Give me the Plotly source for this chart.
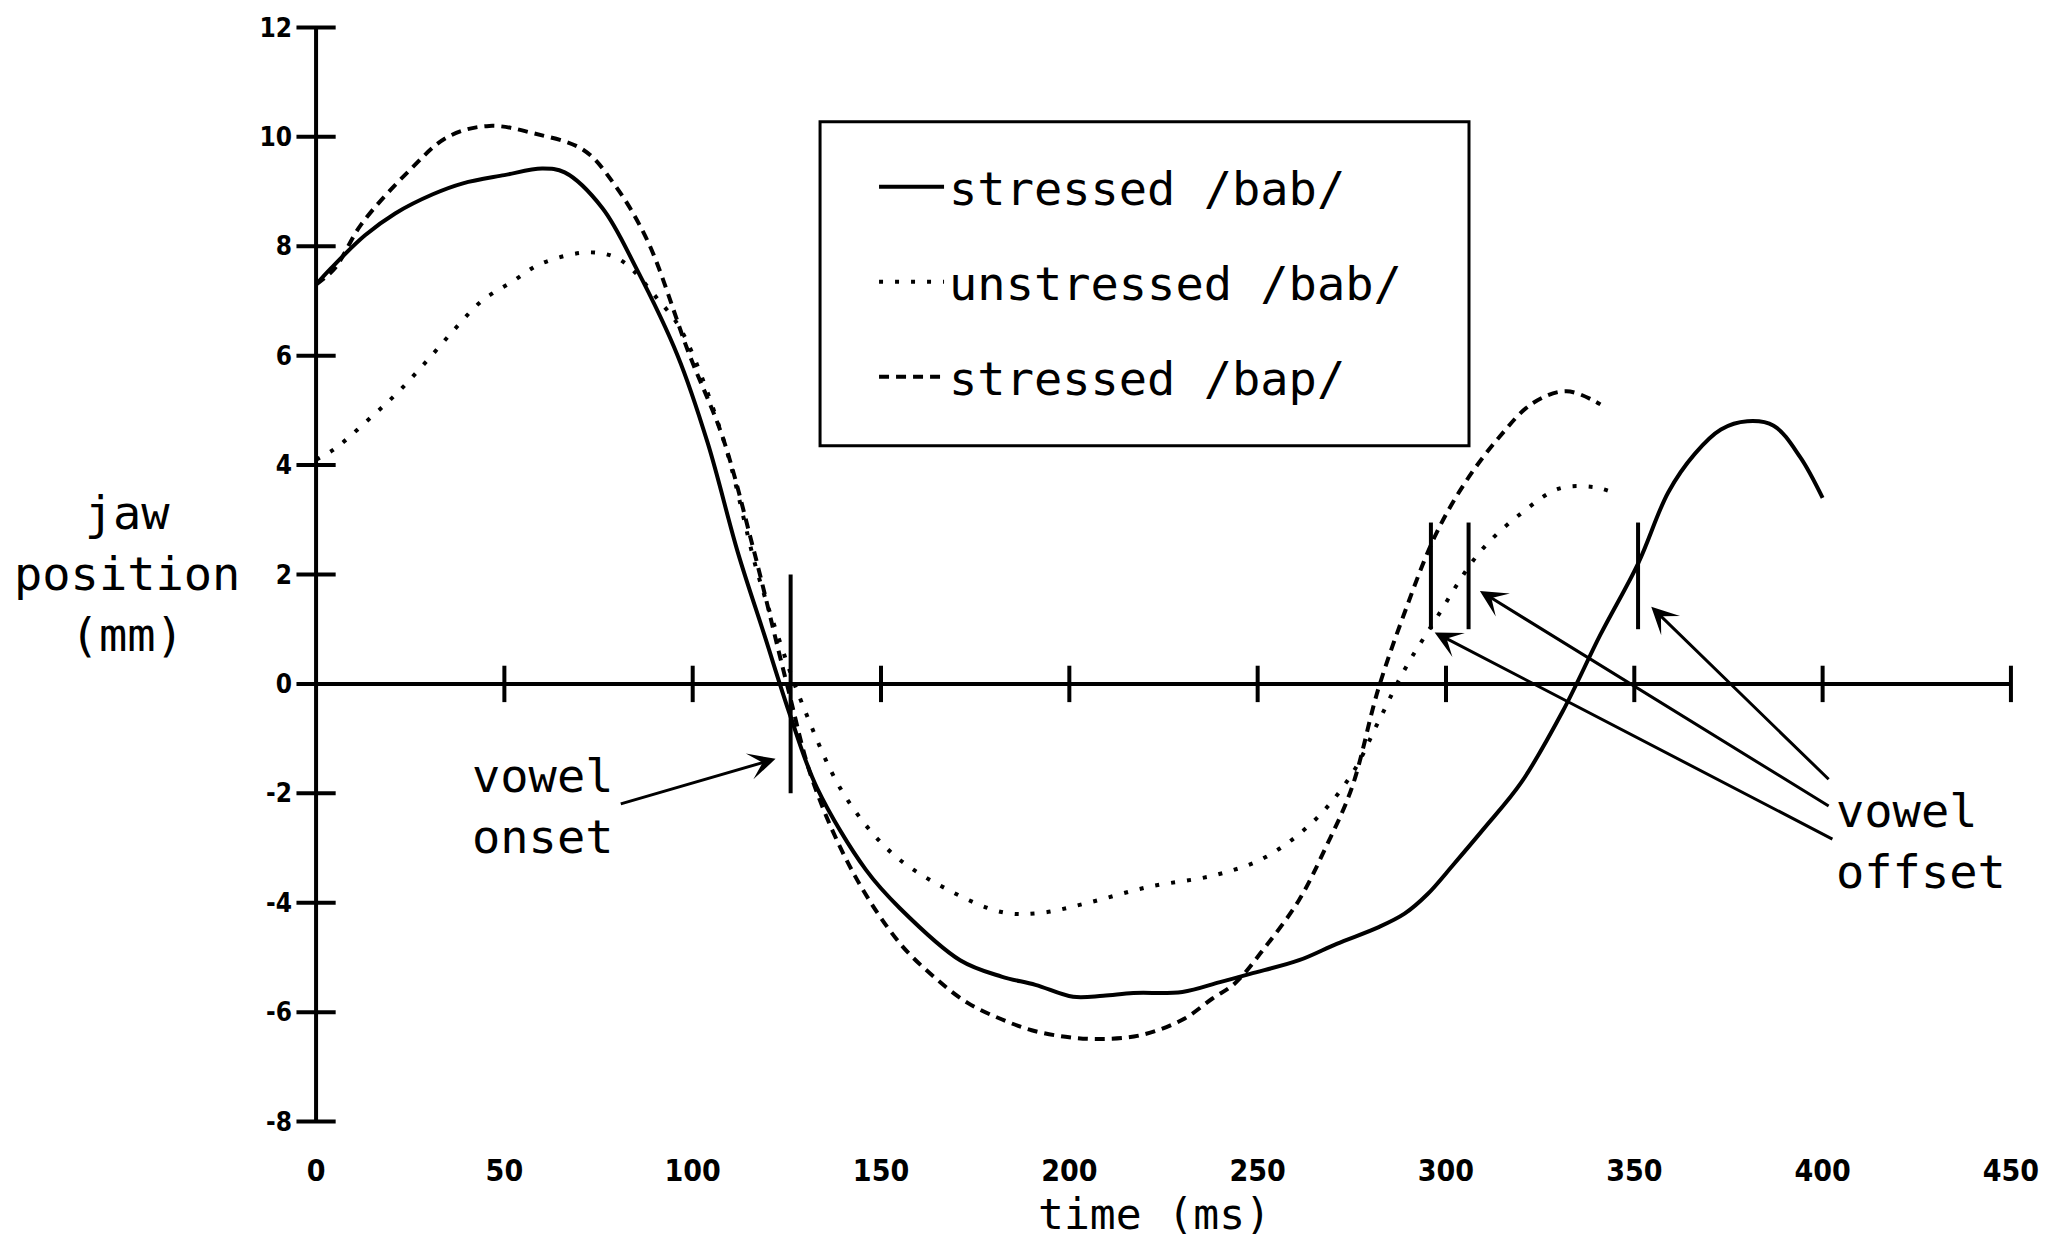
import plotly.graph_objects as go

# jaw position traces (time in ms, position in mm)
stressed_bab_t = [0, 4, 13, 21, 31, 39, 50, 60, 66, 76, 85, 96, 104, 112, 119,
                  126, 133, 146, 155, 171, 182, 191, 201, 209, 217, 230, 240,
                  248, 261, 271, 282, 289, 295, 302, 310, 320, 331, 341, 351,
                  359, 366, 373, 380, 387, 394, 400]
stressed_bab_y = [7.3, 7.6, 8.2, 8.6, 8.95, 9.15, 9.3, 9.42, 9.35, 8.7, 7.6,
                  6.0, 4.4, 2.4, 0.9, -0.6, -1.9, -3.4, -4.1, -5.05, -5.35,
                  -5.5, -5.72, -5.7, -5.65, -5.63, -5.45, -5.3, -5.05, -4.75,
                  -4.45, -4.2, -3.85, -3.3, -2.65, -1.8, -0.5, 0.9, 2.2, 3.5,
                  4.2, 4.65, 4.8, 4.72, 4.15, 3.4]

unstressed_bab_t = [0, 5, 15, 22, 30, 37, 44, 52, 60, 73, 81, 91, 97, 108,
                    117, 123, 129, 140, 153, 168, 182, 192, 205, 221, 239,
                    252, 265, 275, 282, 289, 297, 309, 320, 330, 339, 344]
unstressed_bab_y = [4.1, 4.3, 4.9, 5.35, 5.95, 6.5, 7.0, 7.35, 7.69, 7.89,
                    7.74, 7.01, 6.46, 4.5, 2.08, 0.8, -0.35, -2.0, -3.1, -3.77,
                    -4.17, -4.19, -4.0, -3.71, -3.49, -3.17, -2.5, -1.65, -0.7,
                    0.26, 1.15, 2.41, 3.12, 3.57, 3.6, 3.51]

stressed_bap_t = [0, 5, 12, 25, 35, 46, 58, 71, 79, 88, 99, 108, 116, 125,
                  132, 143, 155, 164, 173, 182, 190, 199, 208, 219, 230, 238,
                  244, 252, 261, 268, 275, 282, 289, 297, 305, 314, 323, 332,
                  341]
stressed_bap_y = [7.3, 7.6, 8.4, 9.4, 10.0, 10.2, 10.06, 9.76, 9.15, 8.1,
                  6.04, 4.5, 2.5, 0.0, -1.8, -3.5, -4.74, -5.35, -5.83, -6.13,
                  -6.33, -6.45, -6.49, -6.42, -6.14, -5.75, -5.47, -4.81,
                  -3.95, -3.0, -1.9, -0.1, 1.3, 2.69, 3.67, 4.5, 5.13, 5.35,
                  5.11]

# vowel onset / offset markers
onset_t = 126
onset_y = [2.0, -2.0]
offset_t = [296, 306, 351]
offset_y = [2.95, 1.0]

x_ticks = [0, 50, 100, 150, 200, 250, 300, 350, 400, 450]
y_ticks = [-8, -6, -4, -2, 0, 2, 4, 6, 8, 10, 12]
y_ticktext = ["-8", "-6", "-4", "-2", "0", "2", "4", "6", "8", "10", "12"]

FONT = "DejaVu Sans Mono"
TICKFONT = dict(family="DejaVu Sans Condensed", size=30, color="black",
                weight="bold")

fig = go.Figure()

fig.add_trace(go.Scatter(x=stressed_bab_t, y=stressed_bab_y, mode="lines",
                         name="stressed /bab/", legendgroup="a",
                         line=dict(color="black", width=4, shape="spline")))
fig.add_trace(go.Scatter(x=unstressed_bab_t, y=unstressed_bab_y, mode="lines",
                         name="unstressed /bab/", legendgroup="b",
                         line=dict(color="black", width=4, shape="spline",
                                   dash="4px,12px")))
fig.add_trace(go.Scatter(x=stressed_bap_t, y=stressed_bap_y, mode="lines",
                         name="stressed /bap/", legendgroup="c",
                         line=dict(color="black", width=4, shape="spline",
                                   dash="10px,7px")))

# onset and offset bars
fig.add_trace(go.Scatter(x=[onset_t, onset_t], y=onset_y, mode="lines",
                         showlegend=False,
                         line=dict(color="black", width=4)))
for t in offset_t:
    fig.add_trace(go.Scatter(x=[t, t], y=offset_y, mode="lines",
                             showlegend=False,
                             line=dict(color="black", width=4)))

# axis lines crossing at the origin
fig.add_shape(type="line", x0=x_ticks[0], x1=x_ticks[-1], y0=0, y1=0,
              line=dict(color="black", width=4))
fig.add_shape(type="line", x0=0, x1=0, y0=y_ticks[0], y1=y_ticks[-1],
              line=dict(color="black", width=4))

# tick marks that cross the axis lines
fig.add_trace(go.Scatter(x=x_ticks[1:], y=[0] * (len(x_ticks) - 1),
                         mode="markers", showlegend=False, cliponaxis=False,
                         marker=dict(symbol="line-ns", size=26,
                                     line=dict(color="black", width=4))))
fig.add_trace(go.Scatter(x=[0] * len(y_ticks), y=y_ticks,
                         mode="markers", showlegend=False, cliponaxis=False,
                         marker=dict(symbol="line-ew", size=28,
                                     line=dict(color="black", width=4))))

# arrows
arrow = dict(showarrow=True, arrowhead=3, arrowsize=1.5, arrowwidth=3,
             arrowcolor="black", axref="x", ayref="y", text="")
fig.add_annotation(x=122, y=-1.37, ax=80.5, ay=-2.2, **arrow)
fig.add_annotation(x=354.5, y=1.41, ax=402, ay=-1.77, **arrow)
fig.add_annotation(x=309, y=1.7, ax=402, ay=-2.25, **arrow)
fig.add_annotation(x=297, y=0.94, ax=403, ay=-2.85, **arrow)

label_font = dict(family=FONT, size=47, color="black")
fig.add_annotation(x=41, y=-2.23, text="vowel<br>onset", showarrow=False,
                   xanchor="left", yanchor="middle", align="left",
                   font=label_font)
fig.add_annotation(x=403, y=-2.88, text="vowel<br>offset", showarrow=False,
                   xanchor="left", yanchor="middle", align="left",
                   font=label_font)
fig.add_annotation(xref="paper", yref="paper", x=-0.1009, y=0.5007,
                   text="jaw<br>position<br>(mm)", showarrow=False,
                   xanchor="center", yanchor="middle", align="center",
                   font=label_font)
fig.add_annotation(xref="paper", yref="paper", x=0.495, y=-0.067,
                   text="time (ms)", showarrow=False,
                   xanchor="center", yanchor="middle",
                   font=dict(family=FONT, size=43, color="black"))

# legend box
fig.add_shape(type="rect", xref="paper", yref="paper",
              x0=0.3009, x1=0.6771, y0=0.6143, y1=0.9017,
              line=dict(color="black", width=3))

fig.update_xaxes(range=[-4, 454], tickvals=x_ticks, showgrid=False,
                 zeroline=False, showline=False, ticks="",
                 ticklabelstandoff=12, tickfont=TICKFONT)
fig.update_yaxes(range=[-8.3, 12.3], tickvals=y_ticks, ticktext=y_ticktext,
                 showgrid=False, zeroline=False, showline=False, ticks="",
                 ticklabelstandoff=8, tickfont=dict(TICKFONT, size=26))

# page body has an 8px margin, so the figure is sized to fit inside it
fig.update_layout(
    width=2042, height=1235,
    margin=dict(l=293, r=24, t=3, b=105),
    plot_bgcolor="white", paper_bgcolor="white",
    legend=dict(x=0.3322, y=0.877, xanchor="left", yanchor="top",
                bgcolor="rgba(0,0,0,0)", borderwidth=0,
                font=dict(family=FONT, size=47, color="black"),
                tracegroupgap=31, itemwidth=65),
)

fig.write_html("out.html")
